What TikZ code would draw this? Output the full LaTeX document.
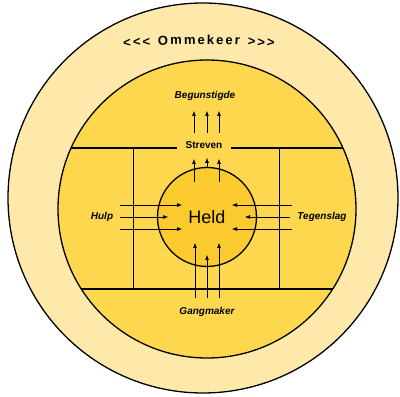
\documentclass[tikz,border=0pt]{standalone}
\usepackage{fontspec}
\setmainfont{Liberation Sans}
\usetikzlibrary{arrows.meta,calc,decorations.text}
\definecolor{ringpale}{HTML}{FEE9AA}
\definecolor{ringmid}{HTML}{FDD84E}
\definecolor{heldcore}{HTML}{FBCA2E}
\newcommand\ommfont{\bfseries\fontsize{13}{15}\selectfont}

\begin{document}
\begin{tikzpicture}[x=1pt,y=1pt,>={Latex[length=5pt,width=4pt]},
  every node/.style={font=\bfseries\itshape\fontsize{10}{12}\selectfont},
  rim/.style={line width=1.3pt},
  flow/.style={->,line width=.6pt}]
  \useasboundingbox (0,0) rectangle (400,397);
  \filldraw[rim,fill=ringpale] (203,199) circle (195);
  \filldraw[rim,fill=ringmid] (207,188) circle (149);
  \path[decorate,decoration={text along path,text align=fit to path,
    text={|\ommfont|<<< Ommekeer >>>}}]
    (199,-447) ++(95.4:800) arc[start angle=95.4,end angle=84.6,radius=800];
  \node[circle,draw,rim,fill=heldcore,minimum size=99pt,
    font=\fontsize{18}{20}\selectfont] (held) at (207,180) {Held};
  \node[inner xsep=8pt,font=\bfseries\fontsize{10}{12}\selectfont]
    (streven) at (204,252) {Streven};
  \coordinate (midl) at (0,249);
  \coordinate (midr) at (400,249);
  \begin{scope}
    \clip (207,188) circle (149);
    \draw[line width=1.2pt] (midl) -- (midl -| streven.west);
    \draw[line width=1.2pt] (streven.east |- midr) -- (midr);
    \draw[line width=1.2pt] (0,108) -- (400,108);
  \end{scope}
  \draw[line width=.6pt] (133,249) -- (133,108) (279,249) -- (279,108);
  % flows round the hero
  \foreach \dx in {-13,0,12}
    \draw[flow] ($(held)+(\dx,84)$) -- ++(0,22);
  \foreach \dx in {-13,12}
    \draw[flow] ($(held)+(\dx,35)$) -- ++(0,23);
  \draw[flow] (held.north) -- ++(0,9);
  \foreach \dy in {-12,12} {
    \draw[flow] ($(held)+(-87,\dy)$) -- ++(62,0);
    \draw[flow] ($(held)+(85,\dy)$) -- ++(-60,0);
    \draw[flow] ($(held)+(\dy,-81)$) -- ++(0,55);
  }
  \draw[flow] ($(held)+(-87,0)$) -- ++(48,0);
  \draw[flow] ($(held)+(83,0)$) -- ++(-45,0);
  \draw[flow] ($(held)+(0,-81)$) -- ++(0,43);
  \node (begunstigde) at (205,301) {Begunstigde};
  \node (hulp) at (102,180) {Hulp};
  \node (tegenslag) at (322,180) {Tegenslag};
  \node (gangmaker) at (207,85) {Gangmaker};
\end{tikzpicture}
\end{document}
